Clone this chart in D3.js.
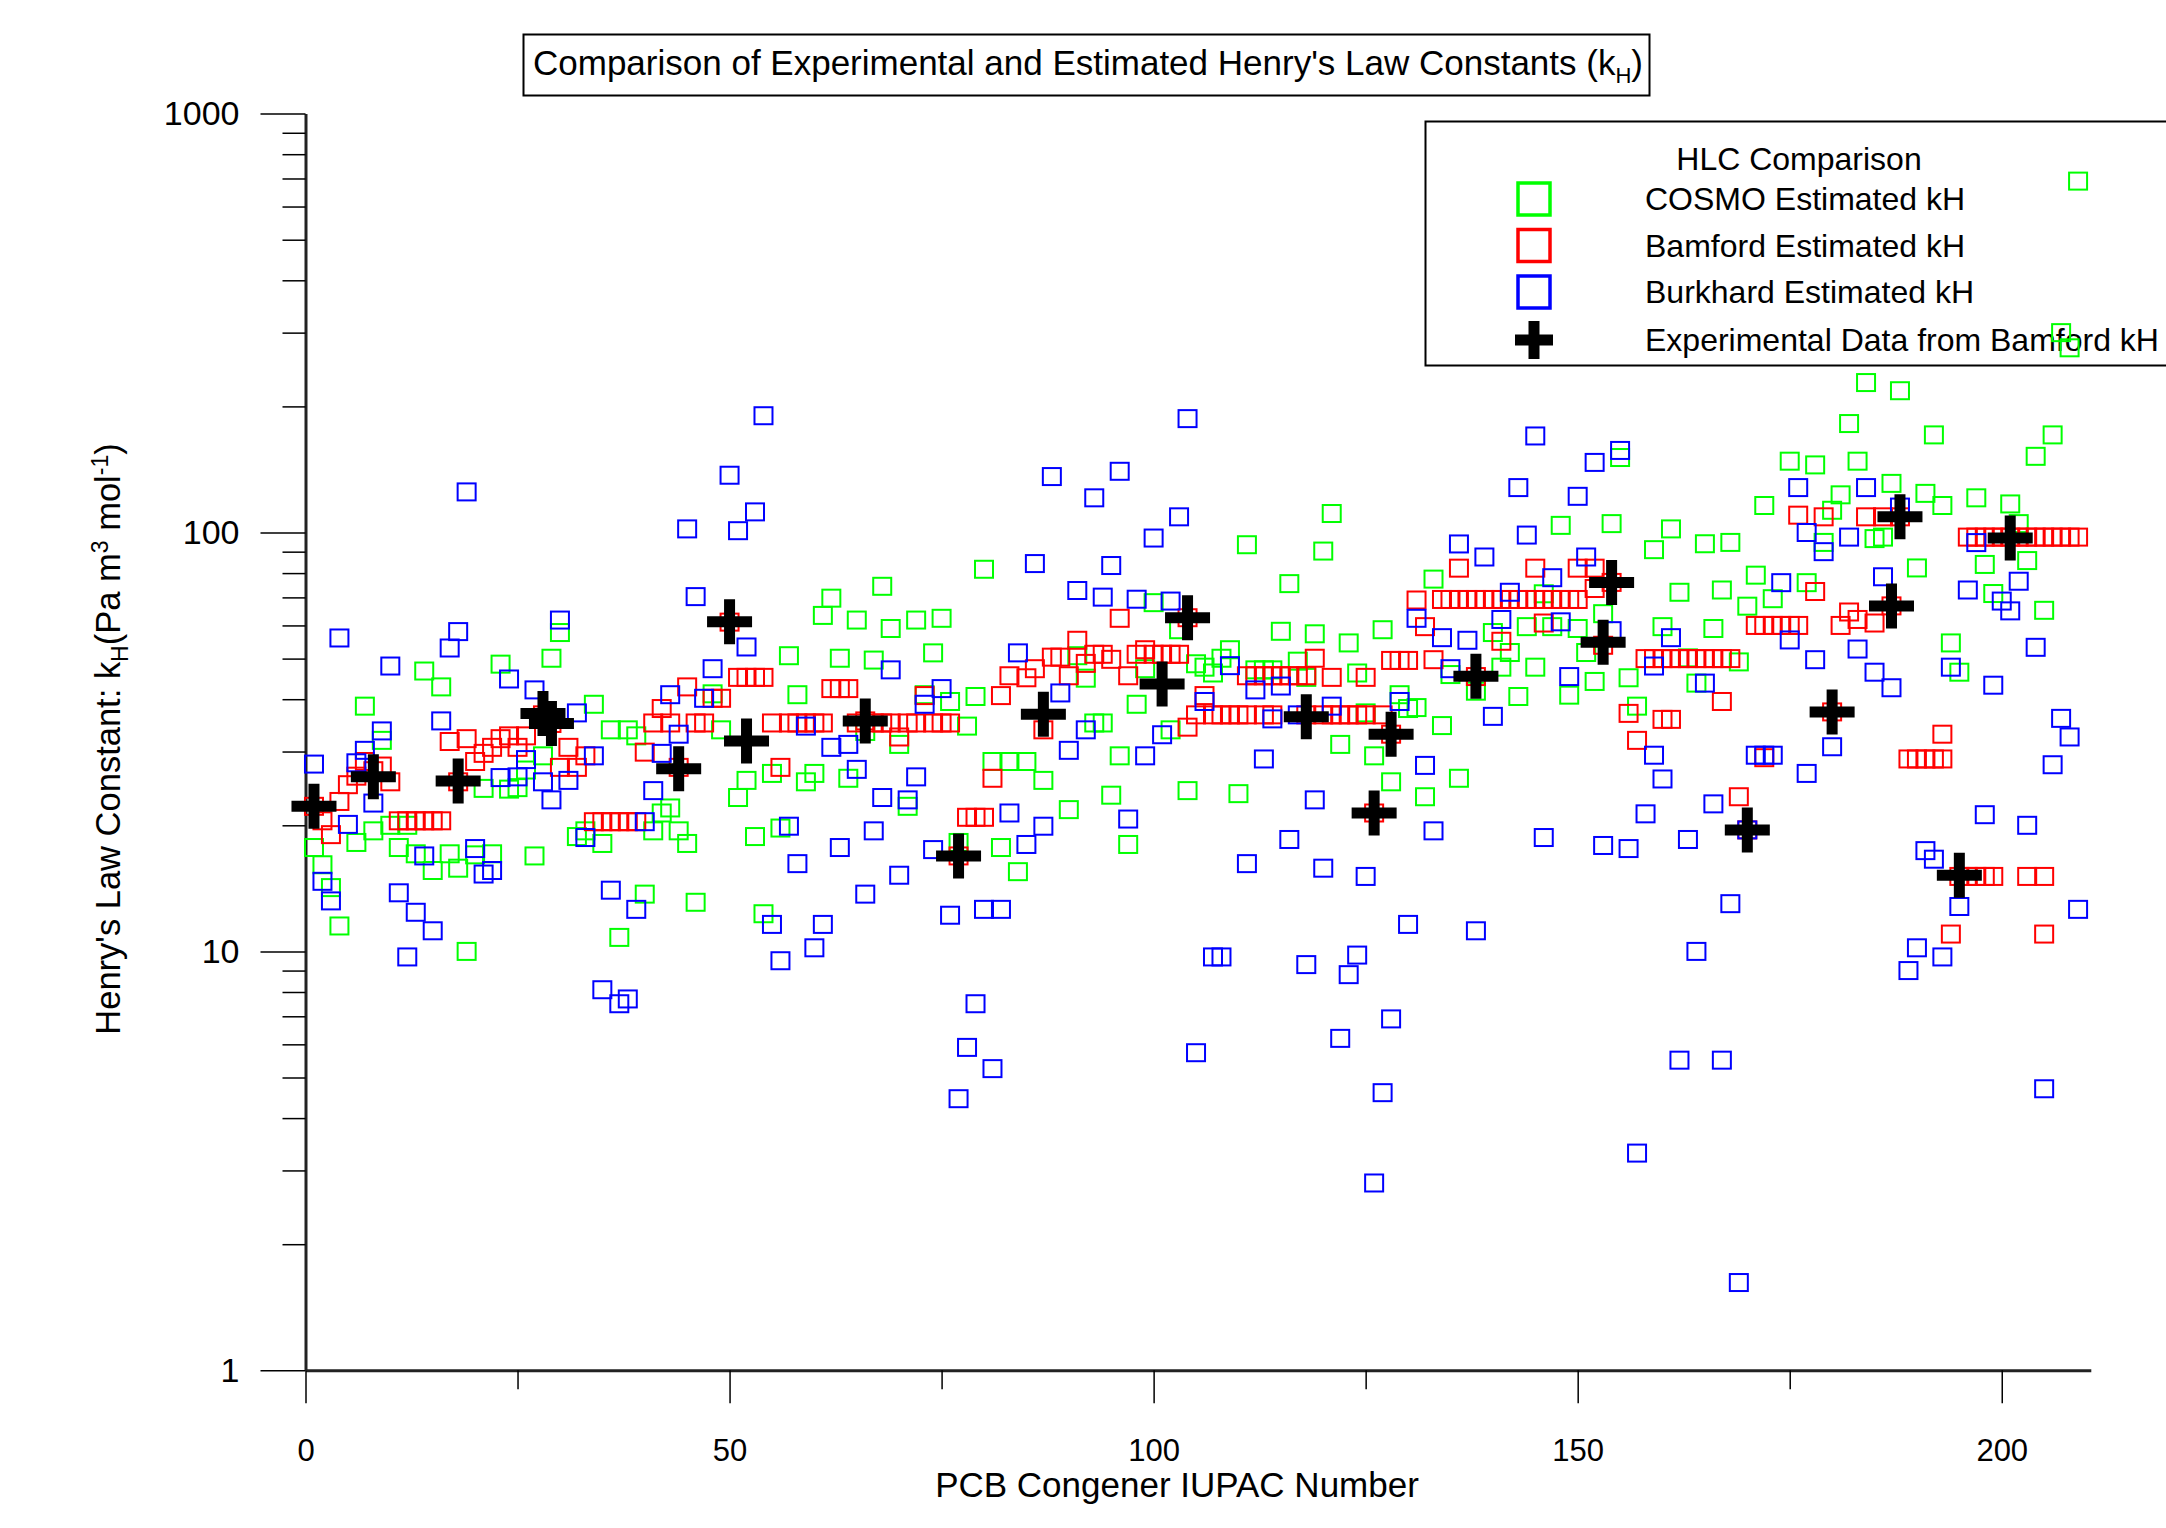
<!DOCTYPE html>
<html>
<head>
<meta charset="utf-8">
<script src="https://cdn.jsdelivr.net/npm/d3@7"></script>
<style>
  body { margin: 0; background: #fff; }
  text { font-family: "Liberation Sans", Arial, sans-serif; fill: #000; }
</style>
</head>
<body>
<svg id="chart"></svg>
<script>
/*
  Henry's law constants for PCB congeners: three estimates vs experimental data
*/

// [congener IUPAC number, kH (Pa m3 mol-1)]
var cosmoData = [
  [1,17.7],[2,16.1],[3,14.2],[4,11.5],[6,18.2],[7,38.5],[8,19.4],[9,31.9],[10,20.0],[11,17.7],
  [12,20.0],[13,17.1],[14,46.7],[15,15.6],[16,42.8],[17,17.1],[18,15.8],[19,10.0],[20,17.0],[21,24.5],
  [22,17.1],[23,48.5],[24,24.4],[25,24.6],[26,27.1],[27,16.9],[28,29.3],[29,50.1],[30,57.7],[32,18.8],
  [33,19.4],[34,38.9],[35,18.1],[36,33.8],[37,10.8],[38,33.8],[39,32.7],[40,13.7],[41,19.4],[42,21.4],
  [43,22.0],[44,19.4],[45,18.1],[46,13.1],[48,41.2],[49,33.8],[51,23.3],[52,25.6],[53,18.8],[54,12.3],
  [55,26.6],[56,19.7],[57,50.8],[58,41.0],[59,25.4],[60,26.6],[61,63.4],[62,69.7],[63,50.1],[64,25.9],
  [65,61.8],[66,33.5],[67,49.6],[68,74.4],[69,59.0],[70,31.2],[71,22.2],[72,61.8],[73,41.0],[74,51.6],
  [75,62.4],[76,39.5],[77,18.2],[78,34.5],[79,40.6],[80,81.7],[81,28.4],[82,17.7],[83,28.4],[84,15.5],
  [85,28.4],[87,25.6],[90,21.8],[91,50.8],[92,44.9],[93,35.1],[94,35.1],[95,23.6],[96,29.3],[97,18.0],
  [98,38.9],[99,47.3],[100,68.0],[102,33.8],[103,58.6],[104,24.2],[105,48.6],[106,47.7],[107,46.2],[108,50.1],
  [109,52.5],[110,23.8],[111,93.5],[112,47.0],[113,47.0],[114,47.0],[115,58.1],[116,75.5],[117,49.3],[118,45.1],
  [119,57.3],[120,90.3],[121,111],[122,31.2],[123,54.5],[124,46.2],[125,37.1],[126,29.3],[127,58.6],[128,25.4],
  [129,41.0],[130,38.0],[131,38.2],[132,23.4],[133,77.4],[134,34.6],[135,45.8],[136,25.9],[138,41.8],[140,57.7],
  [141,47.7],[142,51.7],[143,40.6],[144,59.6],[145,47.7],[146,71.4],[147,59.6],[148,104],[149,40.9],[150,59.0],
  [151,51.7],[152,44.1],[153,64.0],[154,105],[155,151],[156,45.0],[157,38.5],[159,91],[160,59.6],[161,102],
  [162,72.0],[163,50.2],[164,43.7],[165,94],[166,59.0],[167,72.9],[168,94.7],[169,49.1],[170,66.7],[171,79.1],
  [172,116],[173,69.5],[175,148],[177,75.9],[178,145],[179,94.7],[180,113],[181,123],[182,182],[183,148],
  [184,228],[185,96.7],[186,97.5],[187,131],[188,218],[190,82.3],[191,124],[192,171],[193,116],[194,54.5],
  [195,46.4],[197,121],[198,83.9],[199,71.5],[201,117],[202,105],[203,85.7],[204,152],[205,65.2],[206,171],
  [207,300],[208,276],[209,690]
];

var bamfordData = [
  [1,22.2],[2,20.5],[3,19.0],[4,22.8],[5,25.0],[6,26.2],[7,28.4],[8,27.0],[9,27.7],[10,25.4],
  [11,20.5],[12,20.5],[13,20.5],[14,20.5],[15,20.5],[16,20.5],[17,31.7],[18,25.4],[19,32.2],[20,28.4],
  [21,29.7],[22,30.7],[23,32.2],[24,32.7],[25,30.7],[26,32.7],[28,36.7],[29,35.0],[30,27.5],[31,30.7],
  [32,27.5],[33,29.3],[34,20.4],[35,20.4],[36,20.4],[37,20.4],[38,20.4],[39,20.4],[40,29.9],[41,35.1],
  [42,38.0],[43,35.1],[44,27.5],[45,42.8],[46,35.1],[47,35.1],[48,40.2],[49,40.2],[50,61.1],[51,45.1],
  [52,45.1],[53,45.1],[54,45.1],[55,35.1],[56,27.5],[57,35.1],[58,35.1],[59,35.1],[60,35.1],[61,35.1],
  [62,42.4],[63,42.4],[64,42.4],[65,35.1],[66,35.5],[67,35.1],[68,35.1],[69,35.1],[70,32.5],[71,35.1],
  [72,35.1],[73,40.8],[74,35.1],[75,35.1],[76,35.1],[77,16.9],[78,20.9],[79,20.9],[80,20.9],[81,25.9],
  [82,40.8],[83,45.5],[85,45.0],[86,47.3],[87,33.8],[88,50.4],[89,50.4],[90,45.5],[91,55.3],[92,48.7],
  [93,51.2],[94,51.2],[95,49.8],[96,62.4],[97,45.5],[98,51.2],[99,52.5],[100,51.2],[101,51.2],[102,51.2],
  [103,51.2],[104,62.6],[104,34.3],[105,36.7],[106,40.8],[107,36.7],[108,36.7],[109,36.7],[110,36.7],[111,36.7],
  [111,45.5],[112,45.5],[113,45.5],[114,45.5],[115,45.5],[116,45.5],[117,45.5],[118,45.5],[113,36.7],[114,36.7],
  [118,36.7],[119,50.1],[120,36.7],[121,45.1],[121,36.7],[122,36.7],[123,36.7],[124,36.7],[125,36.7],[125,45.1],
  [126,21.4],[127,36.7],[128,33.0],[128,49.5],[129,49.5],[130,49.5],[131,69.0],[132,59.6],[133,49.7],[134,69.2],
  [135,69.2],[136,69.2],[136,82.2],[137,69.2],[138,69.2],[138,45.3],[139,69.2],[140,69.2],[141,69.2],[141,55.0],
  [142,69.2],[143,69.2],[144,69.2],[145,69.2],[145,82.2],[146,69.2],[146,60.8],[147,69.2],[148,69.2],[149,69.2],
  [150,69.2],[150,82.2],[152,82.2],[152,73.5],[153,53.8],[154,76.0],[156,37.0],[157,31.9],[158,50],[159,50],
  [160,50],[161,50],[162,50],[163,50],[164,50],[165,50],[166,50],[167,50],[168,50],[160,35.8],
  [161,35.8],[167,39.5],[169,23.4],[170,19.5],[171,60],[172,60],[173,60],[174,60],[175,60],[176,60],
  [172,29.0],[176,110],[178,72.3],[179,109],[180,37.3],[181,60.0],[182,64.6],[183,62.0],[184,109],[185,60.8],
  [186,109],[187,66.8],[188,109],[189,28.8],[190,28.8],[191,28.8],[192,28.8],[193,28.8],[193,33.0],[194,11.0],
  [195,15.1],[196,15.1],[197,15.1],[198,15.1],[199,15.1],[196,97.5],[197,97.5],[198,97.5],[199,97.5],[200,97.5],
  [201,97.5],[202,97.5],[203,97.5],[204,97.5],[205,97.5],[206,97.5],[207,97.5],[208,97.5],[209,97.5],[203,15.1],
  [205,15.1],[205,11.0]
];

var burkhardData = [
  [1,28],[2,14.7],[3,13.2],[4,56],[5,20.1],[6,28.2],[7,30.2],[8,22.6],[9,33.6],[10,48],
  [11,13.8],[12,9.7],[13,12.4],[14,16.9],[15,11.2],[16,35.5],[17,53],[18,58],[19,125],[20,17.6],
  [21,15.3],[22,15.6],[23,26],[24,44.7],[25,26.1],[26,28.7],[27,42.1],[28,25.4],[29,23.0],[30,61.8],
  [31,25.6],[32,37.1],[33,18.7],[34,29.3],[35,8.1],[36,14.0],[37,7.5],[38,7.7],[39,12.6],[40,20.4],
  [41,24.2],[42,29.7],[43,41.0],[44,33.0],[45,102],[46,70.3],[47,40.2],[48,47.3],[50,137],[51,101],
  [52,53.3],[53,112],[54,190],[55,11.6],[56,9.5],[57,19.9],[58,16.2],[59,34.5],[60,10.2],[61,11.6],
  [62,30.7],[63,17.7],[64,31.2],[65,27.2],[66,13.7],[67,19.4],[68,23.3],[69,47.0],[70,15.2],[71,23.0],
  [72,26.1],[73,38.9],[74,17.5],[75,42.4],[76,12.2],[77,4.45],[78,5.9],[79,7.5],[80,12.6],[81,5.25],
  [82,12.6],[83,21.4],[84,51.6],[85,18.0],[86,84.3],[87,19.9],[88,136],[89,41.4],[90,30.2],[91,72.7],
  [92,33.8],[93,121],[94,70.1],[95,83.4],[96,140],[97,20.7],[98,69.3],[99,29.3],[100,97],[101,32.9],
  [102,68.6],[103,109],[104,187],[105,5.73],[106,39.5],[107,9.7],[108,9.7],[109,48.1],[111,16.2],[112,42.1],
  [113,28.8],[114,35.9],[115,43.0],[116,18.5],[117,36.7],[118,9.3],[119,23.0],[120,15.8],[121,38.5],[122,6.2],
  [123,8.8],[124,9.8],[125,15.1],[126,2.8],[127,4.6],[128,6.9],[129,39.5],[130,11.6],[131,62.4],[132,27.8],
  [133,19.4],[134,56.1],[135,47.3],[136,93.9],[137,55.3],[138,11.2],[139,87.4],[140,36.4],[141,62.0],[142,72.0],
  [143,128],[144,98.6],[145,170],[146,18.7],[147,78.0],[148,61.2],[149,45.3],[150,122],[151,87.4],[152,147],
  [153,17.9],[154,58.3],[155,157],[156,17.6],[157,3.3],[158,21.3],[159,48],[159,29.4],[160,25.8],[161,56.1],
  [162,5.5],[163,18.5],[164,10.0],[165,43.7],[166,22.5],[167,5.5],[168,13.0],[169,1.62],[170,19.5],[171,29.4],
  [172,29.4],[173,29.4],[174,75.9],[175,55.4],[176,128],[177,100],[177,26.6],[178,49.7],[179,90],[180,30.8],
  [182,97.5],[183,52.7],[184,128],[185,46.4],[186,78.4],[187,42.6],[188,115],[189,9.0],[190,10.2],[191,17.4],
  [192,16.6],[193,9.7],[194,47.7],[195,12.8],[196,72.9],[197,94.6],[198,21.2],[199,43.2],[200,68.6],[201,65.0],
  [202,76.5],[203,20.0],[204,53.2],[205,4.7],[206,27.9],[207,36.0],[208,32.5],[209,12.6]
];

var experimentalData = [
  [1,22.2],[8,26.1],[18,25.5],[28,37],[29,35],[44,27.3],[50,61.2],[52,31.8],[66,35.5],[77,16.9],
  [87,36.8],[101,43.5],[104,62.6],[118,36.3],[126,21.4],[128,33.0],[138,45.4],[153,54.7],[154,76.0],[170,19.5],
  [180,37.3],[187,66.8],[188,109],[195,15.2],[201,97]
];

var xMajorTicks = [0, 50, 100, 150, 200];
var xMinorTicks = [25, 75, 125, 175];
var yMajorTicks = [1, 10, 100, 1000];
var yMinorTicks = [2,3,4,5,6,7,8,9,20,30,40,50,60,70,80,90,200,300,400,500,600,700,800,900];

var legendLabels = ["COSMO Estimated kH", "Bamford Estimated kH", "Burkhard Estimated kH", "Experimental Data from Bamford kH"];
var seriesColors = ["#00ff00", "#ff0000", "#0000ff", "#000000"];

var width = 2166, height = 1528;

var svg = d3.select("#chart")
  .attr("width", width)
  .attr("height", height);

svg.append("rect")
  .attr("width", width)
  .attr("height", height)
  .attr("fill", "#fff");

var x = d3.scaleLinear().domain([0, 210.5]).range([305.5, 2090.8]);
var y = d3.scaleLog().domain([1, 1000]).range([1370.3, 113.6]);

// cross marker path, centered on 0,0
function crossPath(size, thick){
  var a = size / 2, t = thick / 2;
  return "M" + (-t) + "," + (-a) + "H" + t + "V" + (-t) + "H" + a + "V" + t + "H" + t +
    "V" + a + "H" + (-t) + "V" + t + "H" + (-a) + "V" + (-t) + "H" + (-t) + "Z";
}

//Title box
svg.append("rect")
  .attr("x", 523.5).attr("y", 34.5)
  .attr("width", 1126).attr("height", 61)
  .attr("fill", "none")
  .attr("stroke", "#000")
  .attr("stroke-width", 2);

var title = svg.append("text")
  .attr("x", 533).attr("y", 75)
  .style("font-size", "35px")
  .text("Comparison of Experimental and Estimated Henry's Law Constants (k");
title.append("tspan").attr("dy", 8).style("font-size", "22px").text("H");
title.append("tspan").attr("dy", -8).text(")");

//Legend box
svg.append("rect")
  .attr("x", 1425.5).attr("y", 121.5)
  .attr("width", 760).attr("height", 244)
  .attr("fill", "none")
  .attr("stroke", "#000")
  .attr("stroke-width", 2);

svg.append("text")
  .attr("x", 1799).attr("y", 170)
  .style("font-size", "32px")
  .style("text-anchor", "middle")
  .text("HLC Comparison");

var legendRows = [199, 245.5, 292, 340];
legendLabels.forEach(function(label, i){
  if(i < 3){
    svg.append("rect")
      .attr("x", 1534 - 16).attr("y", legendRows[i] - 16)
      .attr("width", 32).attr("height", 32)
      .attr("fill", "none")
      .attr("stroke", seriesColors[i])
      .attr("stroke-width", 3.5);
  } else {
    svg.append("path")
      .attr("d", crossPath(38, 11))
      .attr("transform", "translate(1534," + legendRows[i] + ")")
      .attr("fill", "#000");
  }
  svg.append("text")
    .attr("x", 1645).attr("y", legendRows[i] + 11)
    .style("font-size", "32px")
    .text(label);
});

//X axis
var xAxis = svg.append("g")
  .attr("transform", "translate(0," + y(1) + ")")
  .call(d3.axisBottom(x).tickValues(xMajorTicks).tickSize(33).tickSizeOuter(0).tickPadding(36).tickFormat(d3.format("d")));
xAxis.select(".domain").attr("stroke-width", 3).attr("stroke", "#222");
xAxis.selectAll(".tick line").attr("stroke-width", 1.5);
xAxis.selectAll(".tick text").style("font-size", "31px").style("font-family", "Liberation Sans, Arial, sans-serif");

var xAxisMinor = svg.append("g")
  .attr("transform", "translate(0," + y(1) + ")")
  .call(d3.axisBottom(x).tickValues(xMinorTicks).tickSize(19).tickFormat(""));
xAxisMinor.select(".domain").remove();
xAxisMinor.selectAll(".tick line").attr("stroke-width", 1.5);

//Y axis
var yAxis = svg.append("g")
  .attr("transform", "translate(" + x(0) + ",0)")
  .call(d3.axisLeft(y).tickValues(yMajorTicks).tickSize(45).tickSizeOuter(0).tickPadding(21).tickFormat(d3.format("d")));
yAxis.select(".domain").attr("stroke-width", 3).attr("stroke", "#222");
yAxis.selectAll(".tick line").attr("stroke-width", 1.5);
yAxis.selectAll(".tick text").style("font-size", "34px").style("font-family", "Liberation Sans, Arial, sans-serif");

var yAxisMinor = svg.append("g")
  .attr("transform", "translate(" + x(0) + ",0)")
  .call(d3.axisLeft(y).tickValues(yMinorTicks).tickSize(23).tickFormat(""));
yAxisMinor.select(".domain").remove();
yAxisMinor.selectAll(".tick line").attr("stroke-width", 1.5);

//Axis labels
svg.append("text")
  .attr("x", 1177).attr("y", 1497)
  .style("font-size", "35px")
  .style("text-anchor", "middle")
  .text("PCB Congener IUPAC Number");

var yLabel = svg.append("text")
  .attr("transform", "translate(120,739) rotate(-90)")
  .style("font-size", "34.5px")
  .style("text-anchor", "middle")
  .text("Henry's Law Constant: k");
yLabel.append("tspan").attr("dy", 8).style("font-size", "23px").text("H");
yLabel.append("tspan").attr("dy", -8).text("(Pa m");
yLabel.append("tspan").attr("dy", -12).style("font-size", "23px").text("3");
yLabel.append("tspan").attr("dy", 12).text(" mol");
yLabel.append("tspan").attr("dy", -12).style("font-size", "23px").text("-1");
yLabel.append("tspan").attr("dy", 12).text(")");

//Square markers for the three estimates
[cosmoData, bamfordData, burkhardData].forEach(function(data, i){
  svg.append("g").selectAll("rect")
    .data(data).enter().append("rect")
      .attr("x", function(d){ return x(d[0]) - 9; })
      .attr("y", function(d){ return y(d[1]) - 8.5; })
      .attr("width", 18)
      .attr("height", 17)
      .attr("fill", "none")
      .attr("stroke", seriesColors[i])
      .attr("stroke-width", 2);
});

//Experimental crosses
svg.append("g").selectAll("path")
  .data(experimentalData).enter().append("path")
    .attr("d", crossPath(45, 11))
    .attr("transform", function(d){ return "translate(" + x(d[0]) + "," + y(d[1]) + ")"; })
    .attr("fill", "#000");
</script>
</body>
</html>
